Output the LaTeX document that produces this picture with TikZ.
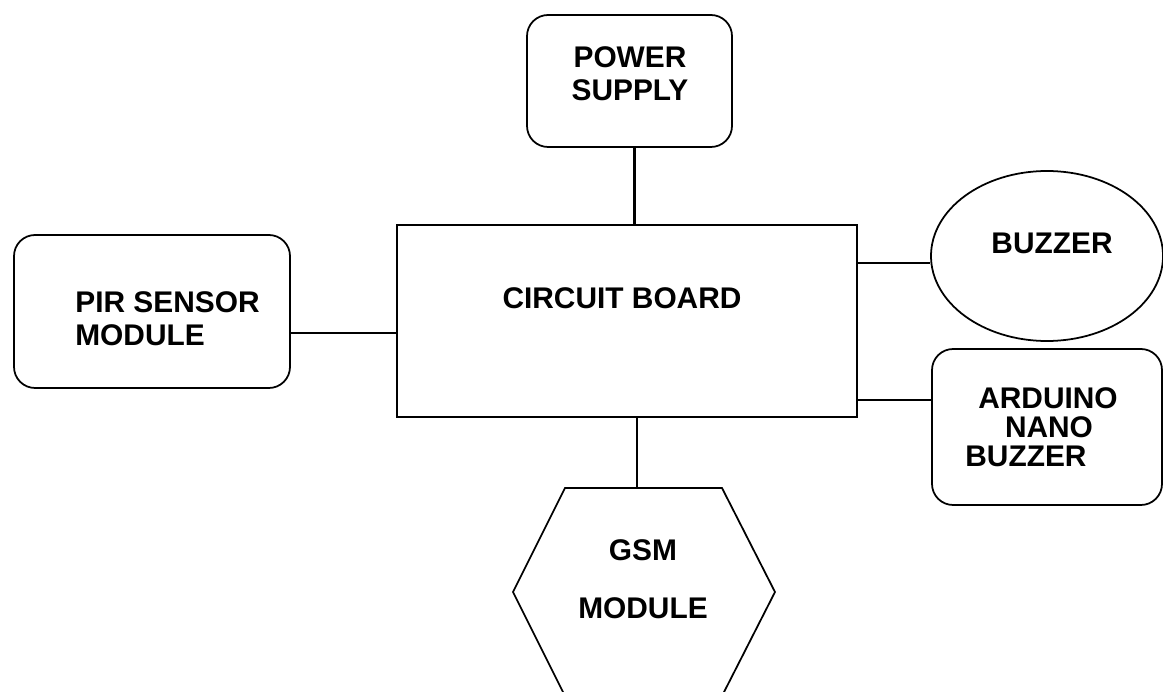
\documentclass[tikz,border=0pt]{standalone}
\usepackage{fontspec}
\setmainfont{Liberation Sans}
\usetikzlibrary{shapes.geometric}

\begin{document}
\begin{tikzpicture}[x=1cm,y=1cm,
  box/.style={draw,line width=1pt,inner sep=0pt},
  rbox/.style={box,rounded corners=12pt},
  lbl/.style={font=\bfseries\fontsize{17}{19}\selectfont,inner sep=0pt},
  wire/.style={line width=1.5pt}]
  \useasboundingbox (0,0) rectangle (23.26,13.82);
  % blocks
  \node[rbox,minimum width=4.1cm,minimum height=2.64cm] (power) at (12.59,12.2){};
  \node[rbox,minimum width=5.52cm,minimum height=3.06cm] (pir) at (3.04,7.59){};
  \node[box,minimum width=9.2cm,minimum height=3.84cm] (board) at (12.54,7.4){};
  \node[box,ellipse,minimum width=4.64cm,minimum height=3.4cm] (buzzer) at (20.94,8.7){};
  \node[rbox,minimum width=4.6cm,minimum height=3.12cm] (arduino) at (20.94,5.28){};
  \draw[line width=1pt] (11.3,4.06) coordinate (gsm-top) -- (14.44,4.06) -- (15.5,1.98)
    -- (14.44,-0.1) -- (11.3,-0.1) -- (10.26,1.98) -- cycle;
  % texts
  \node[lbl,align=center] (power-txt) at (12.6,12.34){POWER\\SUPPLY};
  \node[lbl,align=left,anchor=west] (pir-txt) at (1.5,7.45){PIR SENSOR\\MODULE};
  \node[lbl] (board-txt) at (12.44,7.86){CIRCUIT BOARD};
  \node[lbl] (buzzer-txt) at (21.04,8.96){BUZZER};
  \node[lbl] (ard-a) at (20.96,5.86){ARDUINO};
  \node[lbl] (ard-b) at (20.98,5.28){NANO};
  \node[lbl,anchor=west] (ard-c) at (19.3,4.7){BUZZER};
  \node[lbl] (gsm-a) at (12.86,2.82){GSM};
  \node[lbl] (gsm-b) at (12.86,1.66){MODULE};
  % wires
  \draw[wire] (power.south) ++(0.1,0) coordinate (pwr-out) -- (pwr-out |- board.north);
  \draw[wire] (pir.east) ++(0,-0.43) coordinate (pir-out) -- (pir-out -| board.west);
  \draw[wire] (buzzer.west) ++(0,-0.14) coordinate (buz-in) -- (buz-in -| board.east);
  \draw[wire] (arduino.west) ++(0,0.54) coordinate (ard-in) -- (ard-in -| board.east);
  \coordinate (gsm-in) at (12.74,4.06);
  \draw[wire] (gsm-in |- board.south) -- (gsm-in);
\end{tikzpicture}
\end{document}
